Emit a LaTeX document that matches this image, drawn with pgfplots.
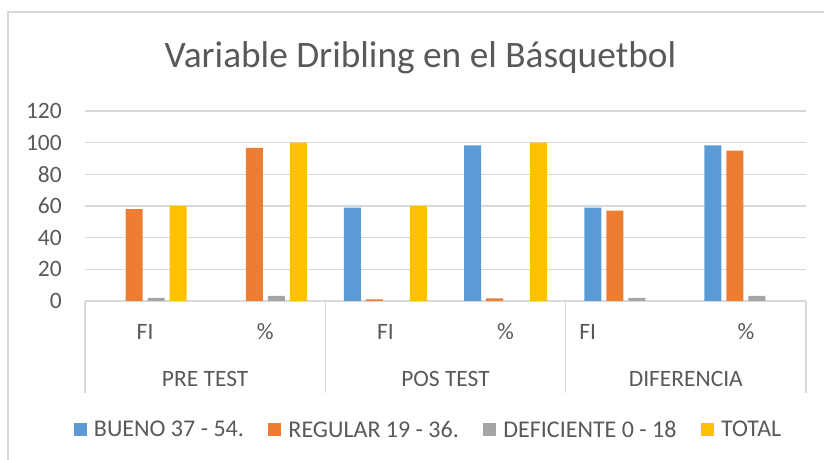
\documentclass[border=0pt]{standalone}
\usepackage{fontspec}
\setmainfont{Carlito}
\usepackage{pgfplots}
\pgfplotsset{compat=1.18}

\definecolor{cBlue}{HTML}{5B9BD5}
\definecolor{cOrange}{HTML}{ED7D31}
\definecolor{cGray}{HTML}{A5A5A5}
\definecolor{cYellow}{HTML}{FFC000}
\definecolor{txt}{HTML}{595959}
\definecolor{gridc}{HTML}{D9D9D9}

\begin{document}
\begin{tikzpicture}
% page = 824x460 px, 1px = 0.75pt, origin at lower left of the plot area
\useasboundingbox (-63.75pt,-119.25pt) rectangle (554.25pt,225.75pt);
\draw[gridc, line width=0.8pt] (-57.75pt,-125pt) -- (-57.75pt,216.75pt) -- (560pt,216.75pt);

\begin{axis}[
    at={(0,0)}, anchor=south west,
    scale only axis,
    width=540.75pt, height=142.5pt,
    xmin=-0.5, xmax=5.5,
    ymin=0, ymax=120,
    enlargelimits=false,
    clip=false,
    xtick=\empty,
    ytick={0,20,...,120},
    axis line style={draw=none},
    major tick length=0pt,
    ymajorgrids,
    grid style={draw=gridc, line width=1.1pt},
    /pgf/number format/assume math mode=true,
    y tick label style={font=\fontsize{17.6pt}{20pt}\selectfont, text=txt,
        anchor=east, inner sep=0pt, xshift=-17.25pt},
    ybar=3.75pt,
    bar width=12.75pt,
    legend columns=4,
    legend style={
        at={(-0.01526,-0.6789)}, anchor=west,
        draw=none, fill=none, inner sep=0pt, outer sep=0pt,
        font=\fontsize{18pt}{20pt}\selectfont, text=txt,
        nodes={inner sep=0pt},
        /tikz/every odd column/.append style={column sep=5.25pt},
        /tikz/every even column/.append style={column sep=18.45pt},
    },
    legend image code/.code={\fill[#1] (0pt,-4.875pt) rectangle (9.75pt,4.875pt);},
]
% zero values are left out (nothing is drawn for them)
\addplot[fill=cBlue, draw=none] coordinates {(2,59) (3,98.3) (4,59) (5,98.3)};
\addplot[fill=cOrange, draw=none] coordinates {(0,58) (1,96.7) (2,1) (3,1.7) (4,57) (5,95)};
\addplot[fill=cGray, draw=none] coordinates {(0,2) (1,3.3) (4,2) (5,3.3)};
\addplot[fill=cYellow, draw=none] coordinates {(0,60) (1,100) (2,60) (3,100)};
\legend{BUENO 37 - 54., REGULAR 19 - 36., DEFICIENTE 0 - 18, TOTAL}

% category separators
\foreach \s in {-0.5,1.5,3.5,5.5}{
    \edef\tmp{\noexpand\draw[gridc, line width=1.1pt] (axis cs:\s,0) -- ([yshift=-69pt]axis cs:\s,0);}
    \tmp
}
% first level labels
\begin{scope}[every node/.style={font=\fontsize{17.6pt}{20pt}\selectfont, text=txt, anchor=base, inner sep=0pt}]
\node at ([yshift=-28.7pt]axis cs:0,0) {FI};
\node at ([yshift=-28.7pt]axis cs:1,0) {\%};
\node at ([yshift=-28.7pt]axis cs:2,0) {FI};
\node at ([yshift=-28.7pt]axis cs:3,0) {\%};
\node at ([yshift=-28.7pt,xshift=-28.5pt]axis cs:4,0) {FI};
\node at ([yshift=-28.7pt]axis cs:5,0) {\%};
% second level labels
\node at ([yshift=-63.75pt]axis cs:0.5,0) {PRE TEST};
\node at ([yshift=-63.75pt]axis cs:2.5,0) {POS TEST};
\node at ([yshift=-63.75pt]axis cs:4.5,0) {DIFERENCIA};
\end{scope}
\end{axis}

\node[anchor=base, inner sep=0pt, text=txt, font=\fontsize{28pt}{34pt}\selectfont]
    at (251.6pt,175.3pt) {Variable Dribling en el Básquetbol};
\end{tikzpicture}
\end{document}
